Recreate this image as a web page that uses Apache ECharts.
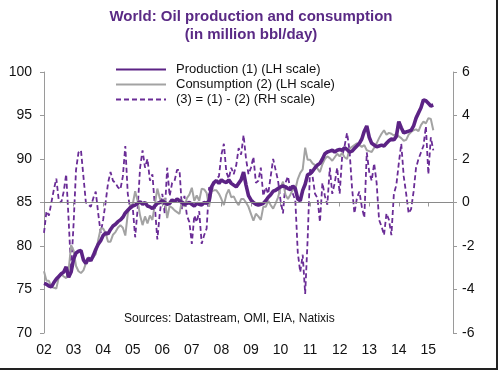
<!DOCTYPE html>
<html>
<head>
<meta charset="utf-8">
<script src="https://cdn.jsdelivr.net/npm/echarts@6/dist/echarts.min.js"></script>
<style>
html,body{margin:0;padding:0;background:#fff;}
#chart{width:500px;height:371px;}
</style>
</head>
<body>
<div id="chart"></div>
<script>
// Year tick labels (one per January)
const yearLabels = ['02','03','04','05','06','07','08','09','10','11','12','13','14','15'];
const monthsTotal = 167; // Jan 2002 .. Nov 2015 (axis extent)

// Production (1), million bbl/day, monthly Jan 2002 - Mar 2015
const production = [
  75.7, 75.6, 75.4, 75.3, 75.8, 76.2, 76.5, 76.8, 77.0, 77.6, 76.4, 77.0,
  78.5, 79.2, 79.4, 79.5, 78.4, 78.0, 78.6, 78.3, 78.9, 79.6, 80.2, 80.6,
  81.2, 81.5, 81.4, 81.9, 82.3, 82.5, 82.8, 83.0, 83.3, 83.8, 84.1, 84.4,
  84.6, 84.7, 84.9, 85.1, 84.8, 85.0, 84.6, 84.5, 84.3, 84.6, 84.9, 85.0,
  85.2, 85.0, 84.8, 84.9, 85.3, 85.1, 85.4, 85.2, 85.0, 84.8, 84.9, 85.0,
  84.8, 84.6, 84.9, 84.8, 84.7, 85.0, 84.9, 85.2, 86.8, 87.3, 87.5, 87.2,
  87.6, 87.4, 87.3, 87.6, 87.2, 87.0, 86.8, 87.2, 87.6, 88.5, 87.0, 85.8,
  85.3, 85.0, 84.8, 84.7, 84.8, 84.9, 85.2, 85.6, 85.9, 86.3, 86.4, 86.6,
  86.8, 86.9, 86.8, 86.6, 86.5, 86.9, 86.6, 85.4, 85.2, 86.4, 87.1, 88.2,
  88.3, 88.6, 89.0, 89.3, 89.5, 90.0, 90.6, 90.8, 90.9, 91.0, 90.8, 91.0,
  91.1, 91.0, 91.3, 91.1, 90.8, 90.9, 91.2, 91.5, 91.8, 92.3, 93.2, 93.8,
  92.5, 91.8, 91.6, 91.4, 91.5, 91.6, 91.5, 91.8, 92.1, 92.3, 92.2, 92.6,
  94.3, 93.6, 93.0, 93.1, 93.2, 93.3, 93.8, 94.7, 95.3, 95.9, 96.8, 96.7,
  96.4, 96.1, 96.2
];

// Consumption (2), million bbl/day
const consumption = [
  77.1, 76.0, 76.0, 75.3, 75.2, 75.1, 76.4, 76.8, 76.5, 76.3, 77.2, 80.1,
  79.5, 77.7, 77.1, 76.9, 77.2, 78.0, 78.7, 78.5, 78.7, 79.1, 80.7, 82.0,
  82.0, 81.5, 80.5, 80.5, 81.3, 81.6, 82.1, 82.4, 82.1, 81.2, 83.7, 84.7,
  84.8, 86.3, 85.2, 83.5, 82.4, 83.4, 82.6, 83.5, 83.0, 84.8, 86.6, 85.5,
  84.8, 85.5, 83.2, 84.6, 84.4, 84.1, 83.9, 83.7, 85.3, 84.5, 85.5, 85.9,
  86.7, 85.2, 85.8, 85.2, 86.6, 86.5, 86.1, 84.5, 86.3, 86.4, 86.4, 86.0,
  85.4, 84.7, 85.9, 86.5, 85.6, 85.7, 85.1, 84.7, 85.4, 85.4, 85.0, 84.5,
  83.7, 82.9, 83.7, 83.4, 83.0, 84.5, 84.5, 85.2, 84.7, 84.3, 84.9, 85.6,
  86.7, 87.4, 85.9, 85.4, 85.9, 86.5, 86.5, 87.7, 88.4, 88.8, 91.3, 89.9,
  89.9, 89.5, 89.3, 88.9, 88.5, 89.4, 90.0, 90.3, 90.1, 89.8, 90.2, 90.6,
  90.3, 90.7, 90.2, 90.0, 91.2, 91.4, 91.6, 91.8, 91.6, 91.4, 91.6, 91.0,
  90.9, 90.8, 91.3, 91.8, 92.4, 92.9, 93.3, 92.8, 93.0, 92.9, 92.7, 92.9,
  92.6, 92.4, 92.1, 92.2, 92.8, 93.1, 93.3, 93.4, 93.2, 93.9, 94.3, 94.1,
  94.7, 94.6, 93.3
];

// (3) = (1) - (2), RH scale
const difference = [
  -1.4, -0.4, -0.6, 0.0, 0.6, 1.1, 0.1, 0.0, 0.5, 1.3, -0.8, -3.1,
  -1.0, 1.5, 2.3, 2.4, 1.2, 0.0, -0.1, -0.2, 0.2, 0.5, -0.5, -1.4,
  -0.8, 0.0, 0.9, 1.4, 1.0, 0.9, 0.7, 0.6, 1.2, 2.6, 0.4, -0.3,
  -0.2, -1.6, -0.3, 1.6, 2.4, 1.6, 2.0, 1.0, 1.3, -0.2, -1.7, -0.5,
  0.4, -0.5, 1.6, 0.3, 0.9, 1.0, 1.5, 1.5, -0.3, 0.3, -0.6, -0.9,
  -1.9, -0.6, -0.9, -0.4, -1.9, -1.5, -1.2, 0.7, 0.5, 0.9, 1.1, 1.2,
  2.2, 2.7, 1.4, 1.1, 1.6, 1.3, 1.7, 2.5, 2.2, 3.1, 2.0, 1.3,
  1.6, 2.1, 0.9, 1.0, 1.6, 0.3, 0.7, 0.4, 1.2, 2.0, 1.5, 1.0,
  0.1, -0.5, 0.9, 1.2, 0.6, 0.4, 0.1, -2.3, -3.2, -2.4, -4.2, -1.7,
  1.6, 1.2, 0.4, 0.2, -0.9, 0.9, 0.3, -0.1, 1.6, 0.4, 0.9, 1.6,
  0.4, 2.1, 2.6, 3.2, 2.4, 0.7, -0.5, 0.2, 0.5, -0.2, -0.7, 2.3,
  1.4, 1.0, 1.8, 0.9, -0.8, -1.1, -1.5, -0.5, -0.8, -1.5, 0.4, 0.8,
  1.8, 2.7, 1.2, 0.4, -0.5, -0.3, 0.5, 1.6, 2.0, 2.3, 2.6, 3.5,
  1.3, 3.0, 2.4
];

// Build monthly categories
const categories = [];
for (let i = 0; i < monthsTotal; i++) {
  const y = Math.floor(i / 12);
  const m = i % 12;
  categories.push((m === 0 ? yearLabels[y] : '') + '|' + i);
}

const purple = '#5c2385';
const dashPurple = '#6a2c96';
const grey = '#a3a3a3';
const axisGrey = '#9a9a9a';
const font = 'Liberation Sans, Arial, sans-serif';

const chart = echarts.init(document.getElementById('chart'), null, {renderer: 'canvas'});
chart.setOption({
  backgroundColor: '#fff',
  animation: false,
  title: {
    text: 'World: Oil production and consumption\n(in million bbl/day)',
    left: 246, top: 3, textAlign: 'center',
    textStyle: {color: '#5a2a85', fontSize: 15, fontWeight: 'bold', fontFamily: font, lineHeight: 18}
  },
  legend: {
    orient: 'vertical', left: 110, top: 58, itemGap: 2,
    itemWidth: 50, itemHeight: 14,
    itemStyle: {opacity: 0},
    textStyle: {color: '#111', fontSize: 13, fontFamily: font, padding: [0,0,0,5]},
    data: ['Production (1) (LH scale)', 'Consumption (2) (LH scale)', '(3) = (1) - (2) (RH scale)']
  },
  grid: {left: 44, right: 47, top: 72, bottom: 38},
  xAxis: {
    type: 'category', data: categories, boundaryGap: false,
    axisLine: {lineStyle: {color: axisGrey, width: 1}},
    axisTick: {show: true, interval: 11, length: 4, lineStyle: {color: axisGrey}},
    axisLabel: {interval: 11, margin: 10, color: '#111', fontSize: 14, fontFamily: font,
      formatter: v => v.split('|')[0]},
    splitLine: {show: false}
  },
  yAxis: [
    {type: 'value', min: 70, max: 100, interval: 5, position: 'left',
     axisLine: {show: true, lineStyle: {color: axisGrey}},
     axisTick: {show: true, length: 4, lineStyle: {color: axisGrey}},
     axisLabel: {color: '#111', fontSize: 14, fontFamily: font, margin: 12},
     splitLine: {show: false}},
    {type: 'value', min: -6, max: 6, interval: 2, position: 'right',
     axisLine: {show: true, lineStyle: {color: axisGrey}},
     axisTick: {show: true, length: 4, lineStyle: {color: axisGrey}},
     axisLabel: {color: '#111', fontSize: 14, fontFamily: font, margin: 9},
     splitLine: {show: false}}
  ],
  series: [
    {name: 'Production (1) (LH scale)', type: 'line', yAxisIndex: 0, data: production,
     symbol: 'none', z: 4, lineStyle: {color: purple, width: 3.6}, itemStyle: {color: purple}},
    {name: 'Consumption (2) (LH scale)', type: 'line', yAxisIndex: 0, data: consumption,
     symbol: 'none', z: 3, lineStyle: {color: grey, width: 2}, itemStyle: {color: grey}},
    {name: '(3) = (1) - (2) (RH scale)', type: 'line', yAxisIndex: 1, data: difference,
     symbol: 'none', z: 2, lineStyle: {color: dashPurple, width: 1.8, type: [5, 3]}, itemStyle: {color: dashPurple},
     markLine: {silent: true, symbol: 'none', label: {show: false},
       lineStyle: {color: '#8a8a8a', type: 'solid', width: 1.2}, data: [{yAxis: 0}]}}
  ],
  graphic: [
    {type: 'text', left: 124, top: 313,
     style: {text: 'Sources: Datastream, OMI, EIA, Natixis', fill: '#111', font: '12px ' + font}},
    {type: 'line', shape: {x1: 497, y1: 0, x2: 497, y2: 369}, style: {stroke: '#222', lineWidth: 2}},
    {type: 'line', shape: {x1: 0, y1: 369, x2: 498, y2: 369}, style: {stroke: '#222', lineWidth: 2}}
  ]
});
</script>
</body>
</html>
